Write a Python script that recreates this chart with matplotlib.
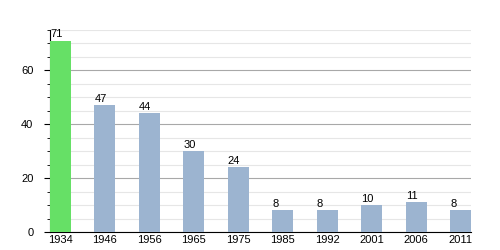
import numpy as np
import matplotlib.pyplot as plt
from matplotlib.ticker import MultipleLocator

plt.rcParams['font.family'] = ['Liberation Sans', 'DejaVu Sans']

years = ['1934', '1946', '1956', '1965', '1975', '1985', '1992', '2001', '2006', '2011']
values = [71, 47, 44, 30, 24, 8, 8, 10, 11, 8]

green = '#66e066'
blue = '#9cb4d0'
colors = [green] + [blue] * (len(values) - 1)

fig = plt.figure(figsize=(5, 2.5), dpi=100)
ax = fig.add_axes([0.1, 0.072, 0.842, 0.808])

x = np.arange(len(years))
width = 0.47
ax.bar(x, values, width=width, color=colors, zorder=3)

for xi, v in zip(x, values):
    ax.annotate(str(v), (xi - width / 2, v), xytext=(0, 1), textcoords='offset points',
                ha='left', va='bottom', fontsize=8)

ax.set_xlim(-width / 2, len(years) - 1 + width / 2)
ax.set_ylim(0, 75)
ax.set_xticks(x)
ax.set_xticklabels(years, fontsize=8)
ax.yaxis.set_major_locator(MultipleLocator(20))
ax.yaxis.set_minor_locator(MultipleLocator(5))
ax.tick_params(axis='y', labelsize=8, pad=8)
ax.tick_params(axis='y', which='major', length=4)
ax.tick_params(axis='y', which='minor', length=2)
ax.tick_params(axis='x', length=0, pad=2)

ax.grid(axis='y', which='minor', color='#e6e6e6', linewidth=0.8, zorder=0)
ax.grid(axis='y', which='major', color='#a8a8a8', linewidth=0.8, zorder=0)
ax.spines[['right', 'top']].set_visible(False)

fig.savefig('out.png', dpi=100)
